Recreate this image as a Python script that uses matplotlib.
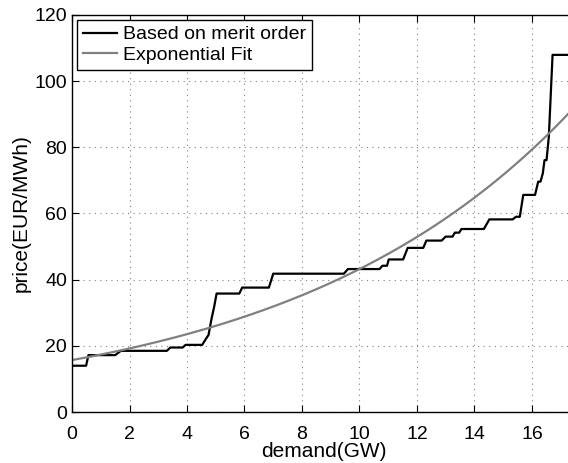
import numpy as np
import matplotlib
matplotlib.use('Agg')
import matplotlib.pyplot as plt

plt.rcParams['font.family'] = ['Liberation Sans', 'DejaVu Sans']

# merit order curve, breakpoints
demand = [0.0, 0.49, 0.57, 1.5, 1.7, 3.3, 3.42, 3.85, 3.95, 4.53, 4.65, 4.75,
          4.85, 4.95, 5.03, 5.82, 5.92, 6.85, 7.0, 9.46, 9.6, 10.7, 10.8, 10.96,
          11.02, 11.52, 11.68, 12.22, 12.33, 12.86, 13.0, 13.24, 13.32, 13.47,
          13.55, 14.33, 14.52, 15.33, 15.45, 15.58, 15.7, 16.11, 16.22, 16.3,
          16.38, 16.44, 16.51, 16.59, 16.72, 17.5]
price = [14.0, 14.0, 17.2, 17.2, 18.5, 18.5, 19.5, 19.5, 20.3, 20.3, 22.0, 23.3,
         28.0, 32.0, 35.8, 35.8, 37.6, 37.6, 41.8, 41.8, 43.2, 43.2, 44.2, 44.2,
         46.1, 46.1, 49.6, 49.6, 51.8, 51.8, 53.0, 53.0, 54.2, 54.2,
         55.3, 55.3, 58.2, 58.2, 59.0, 59.0, 65.6, 65.6, 69.6, 69.6,
         72.1, 76.1, 76.1, 83.2, 107.9, 107.9]

# exponential fit parameters, price = a*exp(b*demand)
fit_a = 15.7
fit_b = 0.1012

xticks = [0, 2, 4, 6, 8, 10, 12, 14, 16]
yticks = [0, 20, 40, 60, 80, 100, 120]

fig = plt.figure(figsize=(5.68, 4.63), dpi=100)
ax = fig.add_axes([0.1268, 0.110, 0.8855, 0.858])

xfit = np.linspace(0, 17.5, 300)
ax.plot(demand, price, color='black', lw=1.6, label='Based on merit order')
ax.plot(xfit, fit_a * np.exp(fit_b * xfit), color='#808080', lw=1.6, label='Exponential Fit')

ax.set_xlim(0, 17.5)
ax.set_ylim(0, 120)
ax.set_xticks(xticks)
ax.set_yticks(yticks)
ax.tick_params(direction='in', top=True, right=True, labelsize=14, length=5, width=0.8)
ax.tick_params(axis='x', pad=10)
ax.grid(True, color='#808080', linestyle=(0, (1, 4)), linewidth=0.8)
for s in ax.spines.values():
    s.set_linewidth(1.0)

ax.set_xlabel('demand(GW)', fontsize=15, labelpad=-1)
ax.set_ylabel('price(EUR/MWh)', fontsize=15, labelpad=3)

leg = ax.legend(loc='upper left', bbox_to_anchor=(0.01, 0.987), borderaxespad=0,
                fontsize=14, fancybox=False, framealpha=1, edgecolor='black',
                handlelength=1.75, handletextpad=0.3, labelspacing=0.15,
                borderpad=0.3)
leg.get_frame().set_linewidth(1.0)

fig.savefig('out.png', dpi=100)
